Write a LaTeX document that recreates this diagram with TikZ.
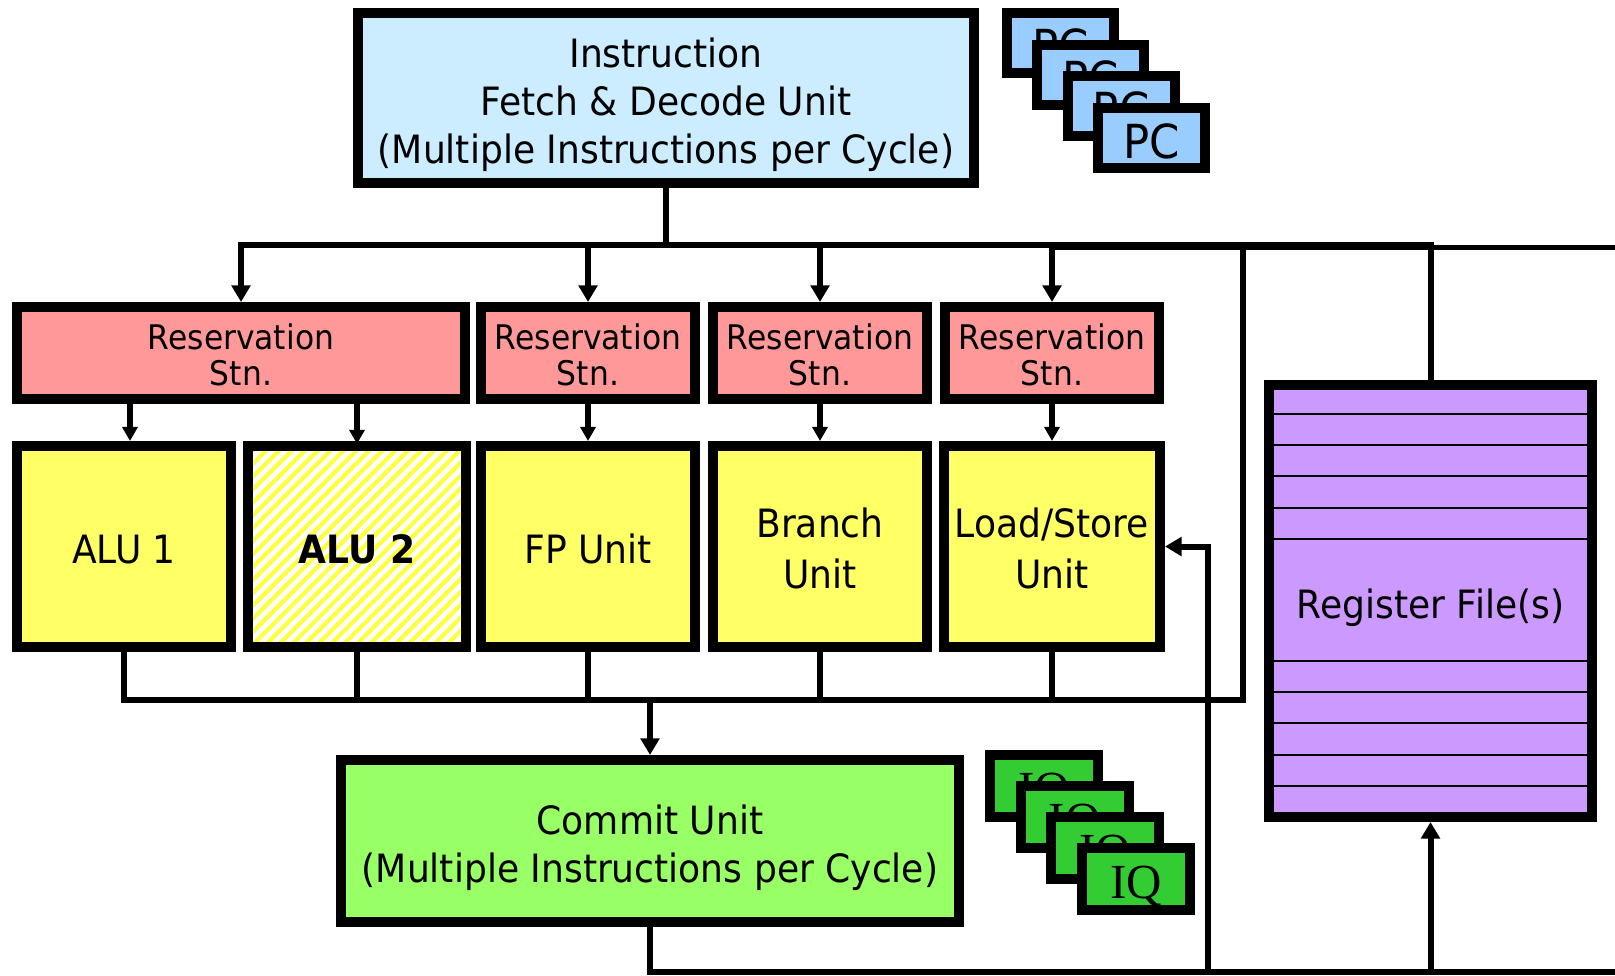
\documentclass[tikz,border=0pt]{standalone}
\usepackage{fontspec}
\setmainfont{DejaVu Sans}[FakeStretch=0.925]
\newfontfamily\iqfont{Liberation Serif}
\usetikzlibrary{arrows.meta,patterns.meta}

% 1 unit = 0.02cm throughout
\newlength\ux
\setlength\ux{0.02cm}

\definecolor{fetchblue}{HTML}{CCECFF}
\definecolor{pcblue}{HTML}{99CCFF}
\definecolor{rsred}{HTML}{FF9999}
\definecolor{fuyellow}{HTML}{FFFF66}
\definecolor{stripeyellow}{HTML}{FFFF3C}
\definecolor{commitgreen}{HTML}{99FF66}
\definecolor{iqgreen}{HTML}{33CC33}
\definecolor{rfpurple}{HTML}{CC99FF}

\newcommand\mainsz{\fontsize{22.2pt}{27.3pt}\selectfont}
\newcommand\rssz{\fontsize{19.3pt}{19.3pt}\selectfont}
\newcommand\fusz{\fontsize{22.2pt}{28.5pt}\selectfont}
\newcommand\pcsz{\fontsize{26.7pt}{30pt}\selectfont}
\newcommand\iqsz{\fontsize{27.9pt}{30pt}\selectfont}

% centred lines of a box label, set a little below the box centre
\newcommand\lowtext[2][4.3pt]{%
  \raisebox{-#1}[\height][\depth]{\begin{tabular}{@{}c@{}}#2\end{tabular}}}

\tikzset{
  sz/.style 2 args={minimum width=#1*\ux, minimum height=#2*\ux},
  block/.style={draw=black, line width=5.69pt, inner sep=0pt, align=center},
  fetchbox/.style={block, fill=fetchblue, font=\mainsz},
  pcbox/.style={block, fill=pcblue, font=\pcsz, sz={107}{60}},
  rsbox/.style={block, fill=rsred, font=\rssz},
  fubox/.style={block, fill=fuyellow, font=\fusz},
  hatchbox/.style={block, preaction={fill=white},
    pattern={Lines[angle=45, distance=5.2pt, line width=2.4pt]},
    pattern color=stripeyellow, font=\fusz\bfseries},
  commitbox/.style={block, fill=commitgreen, font=\mainsz},
  iqbox/.style={block, fill=iqgreen, font=\iqsz\iqfont, sz={108}{62}},
  rfbox/.style={block, fill=rfpurple, font=\mainsz},
  rfline/.style={line width=1.4pt},
  conn/.style={line width=3.4pt, line cap=rect, line join=miter},
  arr/.style={conn, -{Triangle[length=9.5pt, width=10.5pt]}},
  arrs/.style={conn, -{Triangle[length=8pt, width=8.5pt]}},
}

\begin{document}
\begin{tikzpicture}[x=0.02cm, y=-0.02cm]
\useasboundingbox (0,0) rectangle (1615,975);

% fetch / decode unit and its program counters
\node[fetchbox, sz={616}{170}] (fetch) at (666,98)
  {\lowtext[4.6pt]{Instruction\\Fetch \& Decode Unit\\(Multiple Instructions per Cycle)}};
\foreach \i in {0,1,2,3}
  \node[pcbox] (pc\i) at ({1060.5+30.3*\i},{43+31.7*\i}) {\lowtext[5.7pt]{PC}};

% reservation stations
\node[rsbox, sz={448}{92}] (rs1) at (241,353) {\lowtext[3.8pt]{Reservation\\Stn.}};
\node[rsbox, sz={214}{92}] (rs2) at (588,353) {\lowtext[3.8pt]{Reservation\\Stn.}};
\node[rsbox, sz={214}{92}] (rs3) at (820,353) {\lowtext[3.8pt]{Reservation\\Stn.}};
\node[rsbox, sz={214}{92}] (rs4) at (1052,353) {\lowtext[3.8pt]{Reservation\\Stn.}};

% functional units
\node[fubox, sz={214}{201}] (alu1) at (124,546.5) {\lowtext[3.7pt]{ALU 1}};
\node[hatchbox, sz={218}{201}] (alu2) at (357,546.5) {\lowtext[3.7pt]{ALU 2}};
\node[fubox, sz={214}{201}] (fp) at (588,546.5) {\lowtext[3.7pt]{FP Unit}};
\node[fubox, sz={214}{201}] (br) at (820,546.5) {\lowtext[3.7pt]{Branch\\Unit}};
\node[fubox, sz={216}{201}] (ls) at (1052,546.5) {\lowtext[3.7pt]{Load/Store\\Unit}};

% commit unit and instruction queues
\node[commitbox, sz={618}{162}] (commit) at (650,841)
  {\lowtext[4.6pt]{Commit Unit\\(Multiple Instructions per Cycle)}};
\foreach \i in {0,1,2,3}
  \node[iqbox] (iq\i) at ({1044+30.7*\i},{786+31*\i}) {\lowtext[5pt]{IQ}};

% register file with its rows
\node[rfbox, sz={323}{432}] (rf) at (1430.5,601) {\lowtext[4.6pt]{Register File(s)}};
\foreach \yy in {414,445,476,508,539,661,692,723,755,786}
  \draw[rfline] (1274,\yy) -- (1587,\yy);
\node[rfbox, fill=none, sz={323}{432}] at (1430.5,601) {};

% bus levels
\coordinate (bt) at (0,245);
\coordinate (bt2) at (0,247.5);
\coordinate (bb) at (0,700);
\coordinate (bl) at (0,972);
\coordinate (rx) at (1243,0);
\coordinate (lsx) at (1208,0);
\coordinate (edgeT) at (1615,247.5);
\coordinate (edgeB) at (1615,972);
\coordinate (a1in) at ([xshift=0.12cm]alu1.north);

% issue bus from the fetch unit
\draw[conn] (fetch.south) -- (fetch.south |- bt);
\draw[conn] (rs1.north |- bt) -- (rf.north |- bt);
\draw[conn] (rs4.north |- bt2) -- (edgeT);
\draw[conn] (rf.north) -- (rf.north |- bt);
\foreach \r in {rs1,rs2,rs3,rs4}
  \draw[arr] (\r.north |- bt) -- (\r.north);

% reservation stations feed the units
\draw[arrs] (a1in |- rs1.south) -- (a1in);
\draw[arrs] (alu2.north |- rs1.south) -- (alu2.north);
\draw[arrs] (rs2.south) -- (fp.north);
\draw[arrs] (rs3.south) -- (br.north);
\draw[arrs] (rs4.south) -- (ls.north);

% result bus
\draw[conn] (alu1.south) -- (alu1.south |- bb) -- (rx |- bb) -- (rx |- bt);
\foreach \u in {alu2,fp,br,ls}
  \draw[conn] (\u.south) -- (\u.south |- bb);
\draw[arr] (commit.north |- bb) -- (commit.north);

% commit path back to register file and load/store unit
\draw[conn] (commit.south) -- (commit.south |- bl) -- (edgeB);
\draw[arr] (rf.south |- bl) -- (rf.south);
\draw[arr] (lsx |- bl) -- (lsx |- ls.east) -- (ls.east);
\end{tikzpicture}
\end{document}
